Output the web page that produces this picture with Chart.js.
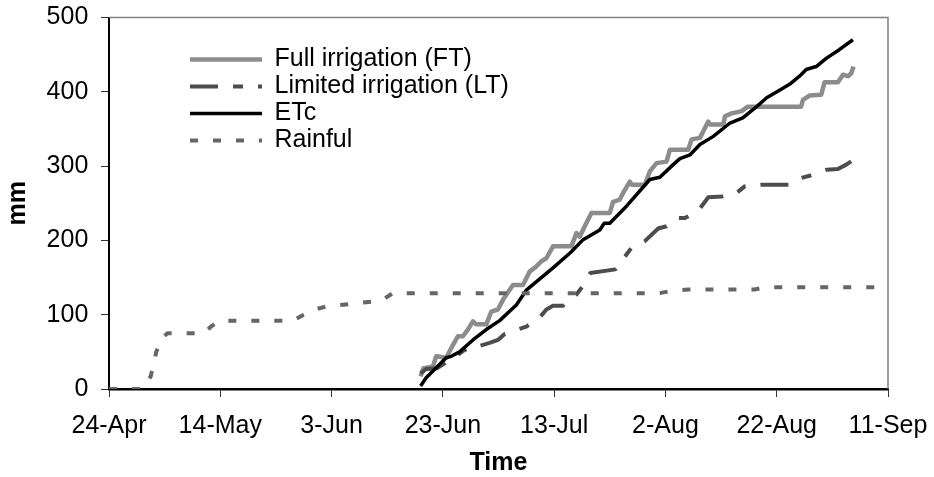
<!DOCTYPE html>
<html><head><meta charset="utf-8">
<script src="https://cdn.jsdelivr.net/npm/chart.js@4"></script>
<style>html,body{margin:0;padding:0;background:#fff}canvas{display:block}</style>
</head><body>
<canvas id="c" width="934" height="477"></canvas>
<script>
// x values are days after 24-Apr
const xTickLabels = ['24-Apr','14-May','3-Jun','23-Jun','13-Jul','2-Aug','22-Aug','11-Sep'];
const yTickValues = [0,100,200,300,400,500];
const seriesNames = ['Full irrigation (FT)','Limited irrigation (LT)','ETc','Rainful'];

const ftDays = [56,56.5,58.2,58.8,60.6,61.8,62.7,63.6,64.5,65.4,66,67.8,68.7,69.9,70.8,72.6,74.4,75.6,76.8,77.7,78.6,79.8,83.1,84,84.6,85.5,86.7,90,90.6,91.8,92.4,93.6,93.9,96.3,97.2,98.4,100.2,100.8,104.1,104.7,106.2,107.7,108,110.4,110.7,111.9,113.7,114.8,124.4,124.7,125.9,128,128.6,131,131.9,132.8,133.4,133.8];
const ftMm   = [17,28,30,44,42,59,71,71,80,91,87,87,104,107,120,140,140,158,165,172,176,192,192,210,205,219,237,237,252,255,264,279,275,275,293,304,306,322,322,336,338,360,356,356,367,371,374,380,380,389,395,396,413,413,423,421,425,434];

const ltDays = [56,57,59,61,62.7,63.6,65,66.6,68.4,69.9,71.1,73.8,75,77.4,78.6,79.8,81.6,84,85,86.5,91,93,93.9,96.3,98.7,100.2,102,103.5,105.9,107.7,110.1,112.8,114.3,117.3,122.3,124.4,125.9,128.9,131,132.5,133.7];
const ltMm   = [21,27,28,38,46,51,57,58,62,66,74,81,84,96,107,112,112,127,137,156,161,181,190,199,216,219,230,230,240,258,259,264,273,275,275,284,287,295,296,302,308];

const etDays = [56,57,60.6,61.5,63,65.4,67.8,70.2,73.2,75,79.8,83,85.2,88.2,89,90,93,97.2,99,101.4,102.6,104.4,106.2,108.6,111.6,113.9,116.4,118.2,120.5,122.3,124.1,125.3,127.1,128.9,131.3,133.7];
const etMm   = [4,15,42,44,50,66,80,92,113,133,163,184,201,214,223,223,246,282,285,302,310,315,329,340,358,365,380,392,402,410,421,430,434,445,457,470];

const rainDays = [0,6,7.5,8.5,9.5,10.5,17,18.5,20,33,35,37,39,43,45,49,51,99,101,104,116,118,140];
const rainMm   = [0,0,17,50,68,75,75,85,92,92,100,107,111,114,116,119,129,129,132,134,134,137,137];

const pts = (d, v) => d.map((x, i) => ({x: x, y: v[i]}));
const FONT = "'Liberation Sans', Arial, sans-serif";
Chart.defaults.color = '#000';
Chart.defaults.font.family = FONT;
const baseGen = Chart.defaults.plugins.legend.labels.generateLabels;

const frame = {
  id: 'frame',
  beforeDatasetsDraw(chart) {
    const {ctx, chartArea: a} = chart;
    ctx.save();
    ctx.strokeStyle = '#808080';
    ctx.lineWidth = 1.5;
    ctx.beginPath();
    ctx.moveTo(a.left, a.top);
    ctx.lineTo(a.right, a.top);
    ctx.lineTo(a.right, a.bottom);
    ctx.stroke();
    ctx.restore();
  }
};
const legendPos = {
  id: 'legendPos',
  afterLayout(chart) {
    const l = chart.legend;
    const w = l.width, h = l.height;
    l.left = 188; l.top = 45; l.right = l.left + w; l.bottom = l.top + h;
  }
};

new Chart(document.getElementById('c'), {
  type: 'line',
  data: {
    datasets: [
      {label: seriesNames[0], data: pts(ftDays, ftMm), borderColor: '#8c8c8c', backgroundColor: '#8c8c8c', borderWidth: 4.5, order: 4},
      {label: seriesNames[1], data: pts(ltDays, ltMm), borderColor: '#4d4d4d', backgroundColor: '#4d4d4d', borderWidth: 4, borderDash: [28,15,10,15], order: 3},
      {label: seriesNames[2], data: pts(etDays, etMm), borderColor: '#000', backgroundColor: '#000', borderWidth: 3.5, order: 2},
      {label: seriesNames[3], data: pts(rainDays, rainMm), borderColor: '#666', backgroundColor: '#666', borderWidth: 4, borderDash: [8,15], order: 1}
    ]
  },
  options: {
    responsive: false,
    animation: false,
    devicePixelRatio: 1,
    elements: {point: {radius: 0, hoverRadius: 0}, line: {tension: 0, borderCapStyle: 'butt', borderJoinStyle: 'round'}},
    layout: {padding: {left: 0, right: 46, top: 17.5, bottom: 0}},
    plugins: {
      tooltip: {enabled: false},
      legend: {
        position: 'chartArea',
        align: 'start',
        labels: {
          usePointStyle: true, pointStyle: 'line', pointStyleWidth: 72,
          padding: 2, color: '#000',
          font: {size: 25, family: FONT},
          sort: (a, b) => a.datasetIndex - b.datasetIndex,
          generateLabels: chart => baseGen(chart).map(l => {
            const ds = chart.data.datasets[l.datasetIndex];
            l.lineDash = ds.borderDash || [];
            l.lineWidth = ds.borderWidth;
            l.strokeStyle = ds.borderColor;
            return l;
          })
        }
      }
    },
    scales: {
      x: {
        type: 'linear', min: 0, max: 140,
        afterFit: s => { s.height = 88; s.paddingLeft = 0; s.paddingRight = 0; },
        afterBuildTicks: s => { s.ticks = xTickLabels.map((t, i) => ({value: i * 20})); },
        ticks: {callback: (v, i) => xTickLabels[i], padding: 14, maxRotation: 0, autoSkip: false, font: {size: 25}, color: '#000'},
        grid: {drawOnChartArea: false, drawTicks: true, tickLength: 8, color: '#333', lineWidth: 1},
        border: {display: true, color: '#000', width: 2.5},
        title: {display: true, text: 'Time', font: {size: 25, weight: 'bold', lineHeight: 1}, padding: {top: 0, bottom: 1.7}, color: '#000'}
      },
      y: {
        type: 'linear', min: 0, max: 500,
        afterFit: s => { s.width = 109; s.paddingTop = 0; s.paddingBottom = 0; },
        afterBuildTicks: s => { s.ticks = yTickValues.map(v => ({value: v})); },
        ticks: {padding: 12.7, font: {size: 25}, color: '#000'},
        grid: {drawOnChartArea: false, drawTicks: true, tickLength: 8, color: '#333', lineWidth: 1},
        border: {display: true, color: '#000', width: 2},
        title: {display: true, text: 'mm', font: {size: 25, weight: 'bold', lineHeight: 1}, padding: {top: 5.3, bottom: 0}, color: '#000'}
      }
    }
  },
  plugins: [frame, legendPos]
});
</script>
</body></html>
